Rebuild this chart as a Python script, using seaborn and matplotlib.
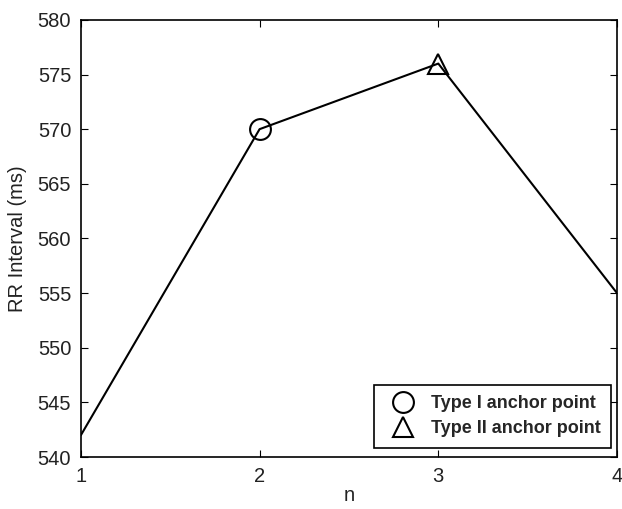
import matplotlib
matplotlib.use("Agg")
import matplotlib.pyplot as plt
import seaborn as sns
import pandas as pd

# beat index and RR interval values
n_vals = [1, 2, 3, 4]
rr_vals = [542, 570, 576, 555]

# anchor points
type1_n = [2]
type1_rr = [570]
type2_n = [3]
type2_rr = [576]

sns.set_style("white")
plt.rcParams["font.family"] = ["Liberation Sans", "DejaVu Sans"]

df = pd.DataFrame({"n": n_vals, "rr": rr_vals})

fig = plt.figure(figsize=(6.22, 5.09), dpi=100)
ax = fig.add_axes([0.130, 0.102, 0.862, 0.859])

sns.lineplot(data=df, x="n", y="rr", color="black", linewidth=1.5, ax=ax)
ax.plot(type1_n, type1_rr, linestyle="none", marker="o", markersize=15,
        markerfacecolor="none", markeredgecolor="black", markeredgewidth=1.5,
        label="Type I anchor point", clip_on=False)
ax.plot(type2_n, type2_rr, linestyle="none", marker="^", markersize=15,
        markerfacecolor="none", markeredgecolor="black", markeredgewidth=1.5,
        label="Type II anchor point", clip_on=False)

ax.set_xlim(1, 4)
ax.set_ylim(540, 580)
ax.set_xticks(n_vals)
ax.set_yticks(range(540, 581, 5))
ax.set_xlabel("n", fontsize=14.5, color="#222222", labelpad=0)
ax.set_ylabel("RR Interval (ms)", fontsize=14.5, color="#222222", labelpad=8)
ax.tick_params(direction="in", length=5, width=0.8, labelsize=14.5, pad=7,
               top=True, right=True, bottom=True, left=True, colors="black",
               labelcolor="#222222")
for s in ax.spines.values():
    s.set_color("black")
    s.set_linewidth(1.2)

leg = ax.legend(loc="lower right", bbox_to_anchor=(0.989, 0.021),
                frameon=True, fancybox=False, edgecolor="black",
                prop={"weight": "bold", "size": 13},
                handletextpad=0.45, borderpad=0.6, labelspacing=0.42,
                handlelength=2.1, borderaxespad=0)
leg.get_frame().set_linewidth(1.2)
leg.get_frame().set_alpha(1)

fig.savefig("out.png", dpi=100)
